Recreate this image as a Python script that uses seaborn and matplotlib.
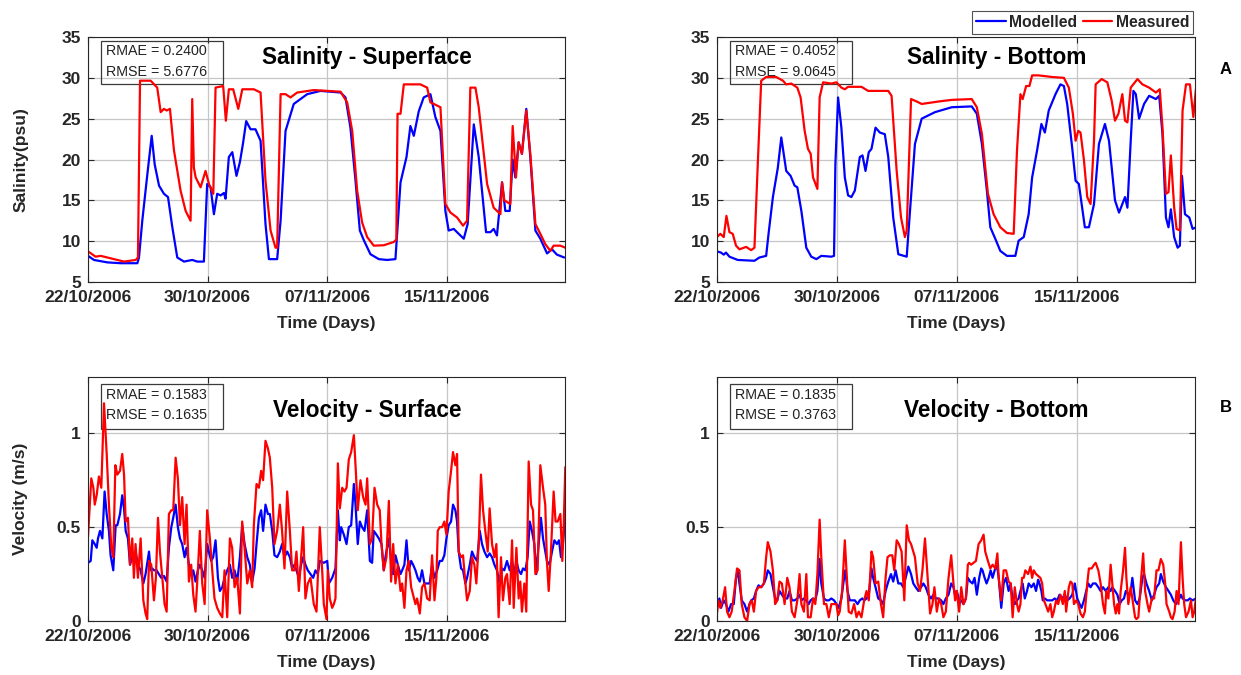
import matplotlib
matplotlib.use("Agg")
import matplotlib.pyplot as plt
from matplotlib.patches import Rectangle
import seaborn as sns
import pandas as pd

# ---------------------------------------------------------------------------
# Data: time in days since 22/10/2006 00:00, paired with the observed value
# ---------------------------------------------------------------------------
START_DATE = "2006-10-22"
TICK_DAYS = [0, 8, 16, 24]
X_END = 31.9

SERIES_NAMES = ["Modelled", "Measured"]
SERIES_COLORS = {"Modelled": "#0000ff", "Measured": "#ff0000"}

# Salinity (psu) at the surface
SAL_SURF_MOD = [
    (0.00, 8.2), (0.40, 7.7), (1.30, 7.4), (2.19, 7.3), (3.30, 7.3), (3.41, 8.0),
    (3.63, 12.5), (3.97, 18.2), (4.26, 22.9), (4.46, 19.4), (4.75, 16.8), (5.08, 15.8),
    (5.35, 15.4), (5.64, 11.7), (5.97, 8.0), (6.42, 7.5), (6.97, 7.7), (7.31, 7.5),
    (7.75, 7.5), (7.97, 17.0), (8.20, 16.6), (8.42, 13.3), (8.64, 15.8), (8.87, 15.6),
    (9.09, 15.9), (9.20, 15.2), (9.42, 20.3), (9.65, 20.9), (9.93, 18.0), (10.16, 19.7),
    (10.36, 21.9), (10.58, 24.7), (10.87, 23.7), (11.20, 23.7), (11.54, 22.3), (11.87, 12.1),
    (12.10, 7.8), (12.65, 7.8), (12.88, 12.5), (13.21, 23.5), (13.76, 26.8), (14.66, 28.0),
    (15.55, 28.4), (16.89, 28.2), (17.22, 27.6), (17.55, 23.9), (17.89, 17.4), (18.18, 11.3),
    (18.45, 10.1), (18.89, 8.4), (19.45, 7.8), (20.00, 7.7), (20.56, 7.8), (20.90, 17.2),
    (21.30, 20.3), (21.56, 24.1), (21.79, 22.9), (22.12, 25.9), (22.45, 27.6), (22.90, 28.0),
    (23.23, 25.2), (23.57, 23.5), (23.90, 13.7), (24.12, 11.3), (24.46, 11.5), (24.79, 10.9),
    (25.13, 10.3), (25.39, 12.1), (25.80, 24.3), (26.13, 20.3), (26.62, 11.1), (26.91, 11.1),
    (27.13, 11.5), (27.35, 10.7), (27.69, 17.2), (27.91, 13.7), (28.20, 13.7), (28.40, 20.0),
    (28.58, 17.8), (28.80, 22.1), (29.02, 20.7), (29.31, 26.2), (29.58, 20.3), (29.92, 11.3),
    (30.25, 10.3), (30.70, 8.5), (31.03, 9.0), (31.36, 8.35), (31.85, 8.0),
]
SAL_SURF_MEAS = [
    (0.00, 8.75), (0.51, 8.1), (0.85, 8.2), (1.74, 7.8), (2.41, 7.5), (3.19, 7.7),
    (3.34, 8.0), (3.48, 29.65), (4.19, 29.65), (4.63, 28.8), (4.86, 25.8), (5.08, 26.2),
    (5.26, 26.0), (5.48, 26.2), (5.75, 21.1), (6.19, 16.2), (6.53, 13.7), (6.86, 12.5),
    (6.97, 27.4), (7.08, 19.0), (7.20, 17.8), (7.53, 16.6), (7.86, 18.6), (8.09, 17.0),
    (8.38, 15.8), (8.53, 28.8), (9.04, 29.0), (9.22, 24.75), (9.42, 28.6), (9.71, 28.6),
    (10.05, 26.2), (10.32, 28.6), (11.09, 28.6), (11.54, 28.2), (11.87, 17.4), (12.21, 11.3),
    (12.54, 9.2), (12.65, 9.2), (12.88, 28.0), (13.21, 28.0), (13.54, 27.6), (13.99, 28.2),
    (15.10, 28.5), (16.89, 28.3), (17.33, 27.0), (17.67, 23.5), (18.00, 16.2), (18.33, 12.3),
    (18.67, 10.5), (19.11, 9.45), (19.78, 9.5), (20.45, 9.9), (20.62, 10.2), (20.70, 25.6),
    (20.90, 25.6), (21.12, 29.2), (22.23, 29.2), (22.68, 28.8), (22.90, 27.0), (23.35, 26.6),
    (23.57, 26.4), (23.90, 14.55), (24.24, 13.5), (24.68, 12.9), (25.08, 11.9), (25.35, 12.5),
    (25.57, 28.8), (25.91, 28.8), (26.13, 26.4), (26.69, 17.0), (27.13, 14.1), (27.58, 13.3),
    (27.69, 17.2), (27.84, 15.0), (28.24, 14.55), (28.40, 24.1), (28.62, 17.8), (28.80, 22.1),
    (29.02, 20.7), (29.31, 26.0), (29.58, 20.7), (29.92, 12.1), (30.25, 10.9), (30.58, 9.65),
    (30.92, 8.8), (31.14, 9.45), (31.59, 9.45), (31.92, 9.2),
]

# Salinity (psu) near the bed
SAL_BOT_MOD = [
    (0.00, 8.75), (0.27, 8.6), (0.45, 8.35), (0.60, 8.6), (0.83, 8.1), (1.38, 7.7),
    (2.50, 7.6), (2.83, 8.0), (3.28, 8.2), (3.44, 10.9), (3.73, 15.4), (4.06, 19.0),
    (4.29, 22.7), (4.62, 18.6), (4.91, 18.0), (5.18, 16.8), (5.36, 16.6), (5.63, 13.7),
    (5.96, 9.2), (6.29, 8.1), (6.63, 7.8), (6.96, 8.2), (7.63, 8.1), (7.81, 8.2),
    (7.90, 19.4), (8.08, 27.6), (8.30, 23.9), (8.53, 17.8), (8.75, 15.6), (8.97, 15.4),
    (9.20, 16.2), (9.53, 20.3), (9.71, 20.5), (9.91, 18.6), (10.13, 20.9), (10.31, 21.3),
    (10.58, 23.9), (10.87, 23.3), (11.20, 23.1), (11.43, 20.3), (11.76, 12.9), (12.10, 8.4),
    (12.66, 8.1), (12.88, 13.7), (13.21, 21.9), (13.66, 25.0), (14.55, 25.8), (15.67, 26.4),
    (17.00, 26.5), (17.34, 25.6), (17.68, 21.9), (18.01, 16.2), (18.24, 11.7), (18.57, 10.3),
    (18.91, 8.8), (19.35, 8.2), (19.91, 8.2), (20.13, 10.06), (20.47, 10.5), (20.80, 13.3),
    (21.03, 17.8), (21.36, 21.1), (21.65, 24.35), (21.88, 23.3), (22.14, 26.0), (22.59, 28.0),
    (22.92, 29.2), (23.15, 29.0), (23.37, 26.8), (23.70, 21.5), (23.93, 17.4), (24.15, 17.0),
    (24.55, 11.7), (24.82, 11.7), (25.16, 14.55), (25.49, 21.9), (25.89, 24.35), (26.16, 22.3),
    (26.56, 15.0), (26.83, 13.5), (27.23, 15.4), (27.39, 14.1), (27.61, 22.3), (27.79, 28.4),
    (27.95, 28.0), (28.17, 25.0), (28.50, 26.8), (28.84, 27.8), (29.29, 27.4), (29.51, 27.8),
    (29.73, 23.1), (29.96, 12.9), (30.13, 11.7), (30.29, 13.9), (30.51, 10.5), (30.74, 9.2),
    (30.89, 9.45), (31.03, 18.0), (31.23, 13.3), (31.52, 12.9), (31.74, 11.5), (31.96, 11.7),
]
SAL_BOT_MEAS = [
    (0.00, 10.5), (0.22, 10.9), (0.45, 10.5), (0.63, 13.1), (0.83, 11.1), (1.05, 10.9),
    (1.27, 9.45), (1.50, 9.0), (1.94, 9.3), (2.28, 8.9), (2.50, 9.2), (2.72, 19.4),
    (2.95, 29.65), (3.28, 30.1), (3.95, 30.1), (4.40, 29.65), (4.62, 29.2), (4.96, 29.3),
    (5.36, 28.8), (5.58, 27.6), (5.85, 23.5), (6.07, 21.3), (6.25, 20.7), (6.41, 17.8),
    (6.70, 16.4), (6.85, 27.6), (7.08, 29.45), (7.63, 29.3), (7.97, 29.45), (8.30, 28.8),
    (8.53, 28.6), (8.75, 28.9), (9.64, 28.9), (10.09, 28.4), (11.43, 28.4), (11.65, 27.8),
    (11.99, 18.6), (12.28, 12.9), (12.54, 10.5), (12.66, 11.3), (12.95, 27.4), (13.33, 27.1),
    (13.66, 26.8), (14.78, 27.1), (15.67, 27.3), (17.00, 27.4), (17.34, 26.4), (17.68, 23.1),
    (18.08, 15.8), (18.46, 13.3), (18.91, 11.7), (19.35, 11.0), (19.80, 10.9), (20.02, 21.1),
    (20.25, 28.0), (20.40, 27.4), (20.63, 29.0), (20.85, 29.0), (21.03, 30.3), (21.47, 30.3),
    (22.37, 30.1), (23.15, 30.0), (23.48, 28.8), (23.75, 25.6), (23.93, 22.3), (24.11, 23.5),
    (24.26, 23.3), (24.49, 19.9), (24.71, 15.4), (24.93, 14.55), (25.16, 22.3), (25.27, 29.2),
    (25.67, 29.85), (26.05, 29.45), (26.34, 27.2), (26.56, 24.75), (26.79, 25.6), (27.05, 28.0),
    (27.23, 24.75), (27.39, 24.55), (27.61, 28.8), (28.06, 29.85), (28.39, 29.2), (28.84, 28.8),
    (29.29, 28.2), (29.55, 28.6), (29.73, 23.9), (29.96, 15.8), (30.13, 16.0), (30.29, 20.5),
    (30.51, 14.1), (30.67, 11.5), (30.89, 11.3), (31.07, 26.0), (31.30, 29.2), (31.56, 29.2),
    (31.79, 25.2), (31.96, 28.6),
]

# Current speed (m/s) at the surface
VEL_SURF_MOD = [
    (0.00, 0.31), (0.18, 0.32), (0.29, 0.43), (0.45, 0.41), (0.58, 0.39), (0.67, 0.44),
    (0.80, 0.48), (0.96, 0.44), (1.11, 0.69), (1.25, 0.57), (1.40, 0.48), (1.51, 0.35),
    (1.69, 0.27), (1.85, 0.51), (1.96, 0.51), (2.14, 0.57), (2.29, 0.67), (2.41, 0.60),
    (2.52, 0.48), (2.67, 0.44), (2.81, 0.30), (2.96, 0.34), (3.07, 0.35), (3.18, 0.37),
    (3.34, 0.30), (3.52, 0.27), (3.70, 0.20), (3.85, 0.25), (4.08, 0.37), (4.19, 0.27),
    (4.30, 0.28), (4.41, 0.27), (4.59, 0.27), (4.74, 0.25), (4.90, 0.23), (5.08, 0.24),
    (5.26, 0.21), (5.41, 0.39), (5.57, 0.50), (5.70, 0.55), (5.86, 0.62), (6.01, 0.50),
    (6.15, 0.44), (6.30, 0.41), (6.46, 0.34), (6.59, 0.39), (6.75, 0.30), (6.90, 0.25),
    (7.04, 0.27), (7.19, 0.21), (7.35, 0.27), (7.48, 0.30), (7.64, 0.27), (7.80, 0.23),
    (7.97, 0.41), (8.08, 0.37), (8.24, 0.32), (8.37, 0.34), (8.53, 0.43), (8.69, 0.23),
    (8.82, 0.16), (8.98, 0.18), (9.13, 0.23), (9.31, 0.27), (9.49, 0.30), (9.64, 0.23),
    (9.80, 0.27), (9.98, 0.21), (10.16, 0.34), (10.31, 0.51), (10.47, 0.41), (10.65, 0.34),
    (10.82, 0.30), (10.98, 0.21), (11.14, 0.28), (11.27, 0.41), (11.43, 0.55), (11.58, 0.59),
    (11.71, 0.48), (11.87, 0.62), (12.03, 0.57), (12.16, 0.57), (12.32, 0.48), (12.47, 0.35),
    (12.65, 0.34), (12.83, 0.37), (12.98, 0.41), (13.14, 0.34), (13.32, 0.37), (13.50, 0.34),
    (13.65, 0.28), (13.81, 0.30), (13.94, 0.27), (14.10, 0.23), (14.25, 0.30), (14.39, 0.34),
    (14.54, 0.30), (14.70, 0.27), (14.88, 0.25), (15.06, 0.23), (15.21, 0.27), (15.37, 0.25),
    (15.50, 0.32), (15.77, 0.31), (16.00, 0.32), (16.11, 0.20), (16.33, 0.23), (16.55, 0.28),
    (16.71, 0.59), (16.84, 0.43), (16.93, 0.50), (17.11, 0.46), (17.29, 0.41), (17.44, 0.50),
    (17.60, 0.51), (17.78, 0.73), (17.89, 0.62), (18.04, 0.41), (18.18, 0.53), (18.33, 0.50),
    (18.49, 0.48), (18.67, 0.59), (18.85, 0.32), (19.00, 0.31), (19.11, 0.48), (19.29, 0.46),
    (19.45, 0.44), (19.63, 0.41), (19.78, 0.27), (19.89, 0.34), (20.00, 0.39), (20.12, 0.44),
    (20.27, 0.32), (20.41, 0.25), (20.56, 0.35), (20.72, 0.30), (20.90, 0.25), (21.01, 0.27),
    (21.16, 0.30), (21.30, 0.43), (21.45, 0.27), (21.61, 0.32), (21.74, 0.30), (21.90, 0.27),
    (22.05, 0.23), (22.19, 0.21), (22.34, 0.27), (22.50, 0.20), (22.68, 0.20), (22.85, 0.20),
    (23.01, 0.30), (23.17, 0.23), (23.35, 0.27), (23.52, 0.32), (23.68, 0.32), (23.83, 0.35),
    (23.97, 0.44), (24.12, 0.51), (24.28, 0.53), (24.41, 0.62), (24.57, 0.59), (24.68, 0.53),
    (24.79, 0.37), (24.95, 0.28), (25.08, 0.27), (25.24, 0.20), (25.35, 0.23), (25.53, 0.30),
    (25.68, 0.37), (25.84, 0.34), (26.02, 0.32), (26.20, 0.48), (26.35, 0.41), (26.51, 0.37),
    (26.69, 0.34), (26.86, 0.36), (27.02, 0.34), (27.18, 0.30), (27.35, 0.27), (27.53, 0.20),
    (27.69, 0.28), (27.84, 0.27), (28.02, 0.32), (28.20, 0.27), (28.36, 0.32), (28.51, 0.25),
    (28.65, 0.32), (28.80, 0.27), (28.96, 0.25), (29.09, 0.28), (29.25, 0.27), (29.40, 0.34),
    (29.54, 0.53), (29.69, 0.48), (29.85, 0.41), (29.98, 0.25), (30.14, 0.41), (30.29, 0.55),
    (30.43, 0.44), (30.58, 0.37), (30.69, 0.32), (30.87, 0.30), (31.03, 0.37), (31.19, 0.43),
    (31.36, 0.41), (31.50, 0.43), (31.63, 0.34), (31.76, 0.41), (31.92, 0.57),
]
VEL_SURF_MEAS = [
    (0.00, 0.45), (0.22, 0.76), (0.36, 0.71), (0.45, 0.62), (0.58, 0.67), (0.73, 0.77),
    (0.89, 0.71), (1.07, 1.16), (1.25, 0.89), (1.40, 0.62), (1.56, 0.39), (1.69, 0.34),
    (1.83, 0.83), (1.96, 0.78), (2.14, 0.80), (2.29, 0.89), (2.41, 0.78), (2.52, 0.53),
    (2.67, 0.55), (2.81, 0.30), (2.96, 0.44), (3.07, 0.23), (3.18, 0.41), (3.34, 0.23),
    (3.52, 0.44), (3.70, 0.11), (3.85, 0.04), (3.96, 0.01), (4.08, 0.32), (4.23, 0.30),
    (4.41, 0.11), (4.54, 0.23), (4.68, 0.55), (4.81, 0.37), (4.97, 0.23), (5.12, 0.09),
    (5.26, 0.05), (5.41, 0.57), (5.57, 0.59), (5.70, 0.59), (5.86, 0.87), (6.01, 0.76),
    (6.15, 0.51), (6.30, 0.66), (6.46, 0.41), (6.59, 0.62), (6.75, 0.21), (6.90, 0.30),
    (7.04, 0.14), (7.19, 0.05), (7.35, 0.27), (7.48, 0.48), (7.64, 0.20), (7.80, 0.09),
    (7.97, 0.59), (8.15, 0.44), (8.31, 0.27), (8.46, 0.12), (8.64, 0.07), (8.82, 0.04),
    (8.98, 0.02), (9.13, 0.27), (9.31, 0.02), (9.49, 0.44), (9.64, 0.39), (9.80, 0.18),
    (9.98, 0.23), (10.16, 0.04), (10.31, 0.53), (10.47, 0.39), (10.65, 0.20), (10.82, 0.27),
    (10.98, 0.18), (11.09, 0.51), (11.27, 0.73), (11.43, 0.71), (11.58, 0.80), (11.71, 0.75),
    (11.87, 0.96), (12.03, 0.92), (12.16, 0.87), (12.32, 0.71), (12.47, 0.41), (12.65, 0.48),
    (12.83, 0.62), (12.98, 0.48), (13.14, 0.28), (13.32, 0.69), (13.50, 0.48), (13.65, 0.27),
    (13.81, 0.27), (13.94, 0.37), (14.10, 0.16), (14.25, 0.34), (14.39, 0.50), (14.54, 0.12),
    (14.70, 0.20), (14.88, 0.23), (15.10, 0.09), (15.28, 0.05), (15.37, 0.23), (15.50, 0.50),
    (15.66, 0.27), (15.77, 0.09), (15.95, 0.01), (16.04, 0.27), (16.17, 0.12), (16.33, 0.07),
    (16.44, 0.09), (16.55, 0.12), (16.71, 0.84), (16.84, 0.60), (17.00, 0.71), (17.15, 0.69),
    (17.29, 0.71), (17.44, 0.86), (17.60, 0.90), (17.78, 0.99), (17.91, 0.80), (18.04, 0.59),
    (18.22, 0.75), (18.40, 0.66), (18.56, 0.62), (18.67, 0.76), (18.85, 0.41), (19.00, 0.44),
    (19.16, 0.71), (19.34, 0.62), (19.51, 0.59), (19.63, 0.41), (19.78, 0.27), (19.96, 0.34),
    (20.12, 0.64), (20.27, 0.21), (20.41, 0.41), (20.56, 0.20), (20.72, 0.30), (20.90, 0.16),
    (21.01, 0.20), (21.16, 0.07), (21.30, 0.27), (21.45, 0.32), (21.61, 0.18), (21.74, 0.14),
    (21.90, 0.09), (22.01, 0.12), (22.19, 0.04), (22.34, 0.18), (22.50, 0.20), (22.68, 0.12),
    (22.85, 0.11), (23.01, 0.35), (23.17, 0.11), (23.30, 0.23), (23.39, 0.48), (23.52, 0.50),
    (23.68, 0.50), (23.83, 0.53), (23.97, 0.46), (24.12, 0.69), (24.28, 0.80), (24.41, 0.90),
    (24.57, 0.83), (24.68, 0.89), (24.79, 0.37), (24.95, 0.34), (25.08, 0.35), (25.24, 0.20),
    (25.35, 0.11), (25.53, 0.16), (25.68, 0.34), (25.84, 0.30), (25.97, 0.20), (26.13, 0.41),
    (26.28, 0.78), (26.42, 0.59), (26.57, 0.48), (26.73, 0.37), (26.86, 0.60), (27.02, 0.41),
    (27.18, 0.34), (27.31, 0.41), (27.46, 0.02), (27.62, 0.34), (27.75, 0.11), (27.91, 0.23),
    (28.02, 0.25), (28.20, 0.09), (28.36, 0.43), (28.47, 0.07), (28.65, 0.39), (28.80, 0.12),
    (28.91, 0.21), (29.02, 0.05), (29.18, 0.20), (29.31, 0.05), (29.47, 0.85), (29.63, 0.62),
    (29.76, 0.59), (29.92, 0.25), (30.07, 0.27), (30.25, 0.83), (30.43, 0.71), (30.58, 0.62),
    (30.69, 0.32), (30.81, 0.16), (30.96, 0.37), (31.14, 0.69), (31.27, 0.53), (31.41, 0.53),
    (31.59, 0.57), (31.72, 0.32), (31.81, 0.50), (31.92, 0.82),
]

# Current speed (m/s) near the bed
VEL_BOT_MOD = [
    (0.00, 0.09), (0.16, 0.12), (0.27, 0.07), (0.45, 0.11), (0.60, 0.09), (0.76, 0.05),
    (0.94, 0.09), (1.12, 0.09), (1.27, 0.23), (1.38, 0.27), (1.50, 0.20), (1.65, 0.11),
    (1.83, 0.09), (2.01, 0.05), (2.17, 0.09), (2.28, 0.11), (2.46, 0.12), (2.61, 0.16),
    (2.77, 0.19), (2.95, 0.18), (3.13, 0.20), (3.28, 0.23), (3.39, 0.27), (3.57, 0.25),
    (3.73, 0.18), (3.88, 0.12), (4.02, 0.11), (4.17, 0.16), (4.33, 0.14), (4.51, 0.12),
    (4.69, 0.12), (4.84, 0.16), (5.00, 0.11), (5.18, 0.11), (5.36, 0.12), (5.51, 0.14),
    (5.63, 0.11), (5.80, 0.12), (5.96, 0.11), (6.12, 0.09), (6.25, 0.11), (6.41, 0.12),
    (6.56, 0.11), (6.70, 0.16), (6.85, 0.33), (6.96, 0.20), (7.14, 0.12), (7.30, 0.11),
    (7.46, 0.11), (7.63, 0.12), (7.81, 0.11), (7.97, 0.09), (8.12, 0.07), (8.30, 0.12),
    (8.48, 0.23), (8.57, 0.27), (8.71, 0.16), (8.86, 0.11), (9.02, 0.11), (9.20, 0.11),
    (9.38, 0.09), (9.53, 0.11), (9.69, 0.12), (9.82, 0.11), (9.98, 0.12), (10.13, 0.14),
    (10.31, 0.28), (10.42, 0.23), (10.58, 0.18), (10.76, 0.12), (10.94, 0.11), (11.09, 0.09),
    (11.25, 0.16), (11.43, 0.21), (11.61, 0.25), (11.76, 0.21), (11.92, 0.27), (12.10, 0.20),
    (12.28, 0.20), (12.43, 0.18), (12.59, 0.23), (12.77, 0.29), (12.95, 0.25), (13.10, 0.20),
    (13.26, 0.18), (13.44, 0.16), (13.62, 0.18), (13.77, 0.20), (13.93, 0.18), (14.11, 0.14),
    (14.29, 0.12), (14.44, 0.14), (14.60, 0.12), (14.78, 0.12), (14.96, 0.11), (15.11, 0.09),
    (15.27, 0.12), (15.45, 0.14), (15.63, 0.20), (15.78, 0.18), (15.89, 0.14), (16.00, 0.16),
    (16.16, 0.11), (16.30, 0.11), (16.45, 0.09), (16.61, 0.12), (16.74, 0.23), (16.90, 0.21),
    (17.05, 0.20), (17.19, 0.23), (17.34, 0.14), (17.50, 0.23), (17.63, 0.28), (17.72, 0.27),
    (17.86, 0.23), (17.99, 0.20), (18.13, 0.23), (18.26, 0.27), (18.39, 0.23), (18.53, 0.27),
    (18.68, 0.30), (18.80, 0.23), (18.97, 0.07), (19.13, 0.20), (19.29, 0.23), (19.46, 0.16),
    (19.60, 0.20), (19.73, 0.11), (19.87, 0.09), (20.02, 0.11), (20.13, 0.12), (20.25, 0.16),
    (20.40, 0.20), (20.54, 0.12), (20.69, 0.16), (20.80, 0.20), (20.98, 0.18), (21.14, 0.20),
    (21.29, 0.16), (21.43, 0.22), (21.52, 0.20), (21.65, 0.16), (21.74, 0.11), (21.88, 0.12),
    (22.03, 0.11), (22.19, 0.11), (22.37, 0.11), (22.54, 0.12), (22.70, 0.11), (22.86, 0.14),
    (23.04, 0.12), (23.21, 0.14), (23.37, 0.11), (23.53, 0.12), (23.71, 0.14), (23.88, 0.20),
    (24.04, 0.12), (24.20, 0.09), (24.33, 0.07), (24.49, 0.11), (24.64, 0.16), (24.78, 0.20),
    (24.93, 0.18), (25.09, 0.20), (25.27, 0.20), (25.45, 0.18), (25.60, 0.16), (25.76, 0.18),
    (25.94, 0.16), (26.12, 0.18), (26.27, 0.16), (26.38, 0.18), (26.56, 0.16), (26.72, 0.14),
    (26.87, 0.09), (27.01, 0.11), (27.16, 0.12), (27.28, 0.16), (27.45, 0.14), (27.61, 0.16),
    (27.72, 0.23), (27.90, 0.11), (28.06, 0.09), (28.21, 0.12), (28.39, 0.23), (28.50, 0.25),
    (28.66, 0.20), (28.84, 0.16), (29.02, 0.11), (29.17, 0.14), (29.33, 0.18), (29.51, 0.20),
    (29.62, 0.25), (29.78, 0.21), (29.96, 0.18), (30.13, 0.16), (30.29, 0.14), (30.45, 0.11),
    (30.62, 0.09), (30.80, 0.11), (30.96, 0.14), (31.07, 0.12), (31.25, 0.11), (31.41, 0.11),
    (31.56, 0.12), (31.74, 0.11), (31.96, 0.12),
]
VEL_BOT_MEAS = [
    (0.00, 0.04), (0.09, 0.11), (0.22, 0.07), (0.38, 0.11), (0.54, 0.18), (0.67, 0.05),
    (0.83, 0.02), (0.98, 0.05), (1.16, 0.16), (1.34, 0.28), (1.50, 0.27), (1.65, 0.09),
    (1.83, 0.02), (2.01, 0.00), (2.17, 0.09), (2.32, 0.11), (2.46, 0.05), (2.61, 0.16),
    (2.77, 0.18), (2.95, 0.18), (3.13, 0.20), (3.28, 0.34), (3.39, 0.42), (3.57, 0.37),
    (3.73, 0.27), (3.88, 0.09), (4.02, 0.11), (4.17, 0.21), (4.33, 0.20), (4.51, 0.09),
    (4.69, 0.23), (4.84, 0.18), (5.00, 0.05), (5.18, 0.02), (5.36, 0.11), (5.51, 0.25),
    (5.63, 0.09), (5.80, 0.05), (5.96, 0.25), (6.07, 0.02), (6.25, 0.02), (6.41, 0.12),
    (6.56, 0.09), (6.70, 0.25), (6.85, 0.54), (6.96, 0.34), (7.14, 0.09), (7.30, 0.09),
    (7.46, 0.02), (7.63, 0.09), (7.81, 0.09), (7.97, 0.09), (8.08, 0.03), (8.19, 0.05),
    (8.35, 0.16), (8.53, 0.43), (8.64, 0.27), (8.79, 0.05), (8.97, 0.04), (9.15, 0.09),
    (9.31, 0.02), (9.46, 0.05), (9.64, 0.02), (9.82, 0.11), (9.98, 0.16), (10.13, 0.11),
    (10.31, 0.37), (10.42, 0.34), (10.58, 0.20), (10.76, 0.21), (10.94, 0.09), (11.09, 0.02),
    (11.25, 0.23), (11.38, 0.34), (11.54, 0.35), (11.70, 0.35), (11.83, 0.27), (11.99, 0.43),
    (12.14, 0.41), (12.32, 0.37), (12.50, 0.11), (12.66, 0.51), (12.81, 0.43), (12.95, 0.41),
    (13.10, 0.37), (13.21, 0.34), (13.39, 0.20), (13.55, 0.16), (13.71, 0.27), (13.88, 0.44),
    (14.06, 0.23), (14.22, 0.04), (14.38, 0.09), (14.51, 0.18), (14.67, 0.05), (14.82, 0.12),
    (14.96, 0.09), (15.11, 0.02), (15.27, 0.05), (15.45, 0.23), (15.63, 0.35), (15.78, 0.20),
    (15.89, 0.11), (16.00, 0.16), (16.16, 0.05), (16.30, 0.18), (16.45, 0.09), (16.61, 0.12),
    (16.74, 0.30), (16.83, 0.31), (16.96, 0.30), (17.12, 0.31), (17.28, 0.32), (17.46, 0.41),
    (17.63, 0.43), (17.79, 0.46), (17.90, 0.37), (18.08, 0.32), (18.24, 0.28), (18.39, 0.30),
    (18.57, 0.28), (18.71, 0.36), (18.80, 0.23), (18.97, 0.11), (19.13, 0.27), (19.29, 0.27),
    (19.46, 0.21), (19.60, 0.20), (19.73, 0.02), (19.87, 0.18), (20.02, 0.09), (20.13, 0.05),
    (20.25, 0.09), (20.36, 0.23), (20.47, 0.23), (20.58, 0.27), (20.76, 0.25), (20.92, 0.29),
    (21.03, 0.23), (21.14, 0.27), (21.29, 0.25), (21.43, 0.24), (21.58, 0.23), (21.70, 0.20),
    (21.81, 0.11), (21.92, 0.09), (22.10, 0.05), (22.25, 0.09), (22.37, 0.02), (22.48, 0.05),
    (22.63, 0.11), (22.77, 0.09), (22.92, 0.14), (23.08, 0.09), (23.21, 0.16), (23.30, 0.05),
    (23.48, 0.18), (23.59, 0.21), (23.71, 0.20), (23.82, 0.09), (23.97, 0.11), (24.11, 0.09),
    (24.26, 0.04), (24.42, 0.02), (24.55, 0.05), (24.71, 0.20), (24.82, 0.28), (25.00, 0.28),
    (25.16, 0.30), (25.27, 0.31), (25.45, 0.27), (25.60, 0.20), (25.76, 0.09), (25.89, 0.04),
    (25.98, 0.16), (26.12, 0.12), (26.27, 0.30), (26.38, 0.20), (26.50, 0.09), (26.61, 0.04),
    (26.72, 0.09), (26.83, 0.04), (26.94, 0.16), (27.10, 0.27), (27.23, 0.39), (27.32, 0.23),
    (27.45, 0.09), (27.61, 0.18), (27.72, 0.12), (27.90, 0.02), (27.99, 0.01), (28.12, 0.02),
    (28.28, 0.20), (28.44, 0.36), (28.57, 0.16), (28.73, 0.09), (28.84, 0.05), (29.02, 0.12),
    (29.17, 0.12), (29.33, 0.27), (29.46, 0.27), (29.62, 0.33), (29.78, 0.30), (29.91, 0.20),
    (30.00, 0.09), (30.18, 0.05), (30.29, 0.02), (30.40, 0.01), (30.54, 0.05), (30.67, 0.16),
    (30.80, 0.09), (30.96, 0.42), (31.07, 0.23), (31.18, 0.09), (31.30, 0.02), (31.47, 0.05),
    (31.63, 0.11), (31.74, 0.02), (31.85, 0.05), (31.96, 0.12),
]

PANELS = [
    # (modelled, measured, title, ylim, yticks, stats)
    (SAL_SURF_MOD, SAL_SURF_MEAS, "Salinity - Superface", (5, 35), [5, 10, 15, 20, 25, 30, 35],
     ["RMAE = 0.2400", "RMSE = 5.6776"]),
    (SAL_BOT_MOD, SAL_BOT_MEAS, "Salinity - Bottom", (5, 35), [5, 10, 15, 20, 25, 30, 35],
     ["RMAE = 0.4052", "RMSE = 9.0645"]),
    (VEL_SURF_MOD, VEL_SURF_MEAS, "Velocity - Surface", (0, 1.3), [0, 0.5, 1],
     ["RMAE = 0.1583", "RMSE = 0.1635"]),
    (VEL_BOT_MOD, VEL_BOT_MEAS, "Velocity - Bottom", (0, 1.3), [0, 0.5, 1],
     ["RMAE = 0.1835", "RMSE = 0.3763"]),
]
Y_LABELS = ["Salinity(psu)", None, "Velocity (m/s)", None]
ROW_TAGS = ["A", "B"]

# ---------------------------------------------------------------------------
# Styling
# ---------------------------------------------------------------------------
sns.set_style("ticks")
plt.rcParams["font.family"] = ["Liberation Sans", "DejaVu Sans"]
INK = "#262626"
GRID = "#c6c6c6"

W, H = 1241, 675
fig = plt.figure(figsize=(W / 100, H / 100), dpi=100)

# axes boxes in pixels: left, top, right, bottom
boxes = [
    (88, 37, 565, 282), (717, 37, 1195, 282),
    (88, 377, 565, 621), (717, 377, 1195, 621),
]

tick_labels = [
    (pd.Timestamp(START_DATE) + pd.Timedelta(days=d)).strftime("%d/%m/%Y") for d in TICK_DAYS
]


def to_frame(modelled, measured):
    rows = [(d, v, SERIES_NAMES[0]) for d, v in modelled]
    rows += [(d, v, SERIES_NAMES[1]) for d, v in measured]
    return pd.DataFrame(rows, columns=["day", "value", "series"])


axes = []
for i, ((mod, meas, title, ylim, yticks, stats), (l, t, r, b)) in enumerate(zip(PANELS, boxes)):
    ax = fig.add_axes([l / W, 1 - b / H, (r - l) / W, (b - t) / H])
    axes.append(ax)
    df = to_frame(mod, meas)
    sns.lineplot(
        data=df, x="day", y="value", hue="series", hue_order=SERIES_NAMES,
        palette=SERIES_COLORS, estimator=None, sort=True, linewidth=1.6,
        ax=ax, legend=(i == 0),
    )
    ax.set_xlim(0, X_END)
    ax.set_ylim(*ylim)
    ax.set_xticks(TICK_DAYS)
    ax.set_xticklabels(tick_labels)
    ax.set_yticks(yticks)
    ax.set_yticklabels([f"{v:g}" for v in yticks])
    ax.grid(True, color=GRID, linewidth=0.9)
    ax.set_axisbelow(True)
    for side in ["top", "right", "left", "bottom"]:
        ax.spines[side].set_visible(True)
        ax.spines[side].set_color(INK)
        ax.spines[side].set_linewidth(0.8)
    ax.tick_params(axis="both", direction="in", length=4, width=0.8, color=INK,
                   labelsize=12.5, labelcolor=INK, top=True, right=True)
    ax.tick_params(axis="x", pad=6)
    ax.tick_params(axis="y", pad=5)
    for lab in ax.get_xticklabels() + ax.get_yticklabels():
        lab.set_fontweight("bold")

    ax.set_xlabel("Time (Days)", fontsize=12.5, fontweight="bold", color=INK)
    ax.xaxis.set_label_coords(0.5, -0.137 if i < 2 else -0.141)
    if Y_LABELS[i]:
        ax.set_ylabel(Y_LABELS[i], fontsize=12.5, fontweight="bold", color=INK)
        ax.yaxis.set_label_coords(-0.125, 0.5)
    else:
        ax.set_ylabel("")

    # panel title
    ax.text(0.585, 0.918 if i < 2 else 0.861, title, transform=ax.transAxes,
            ha="center", va="center", fontsize=16.3, fontweight="bold", color="black")

    # statistics box (transparent, the curves show through)
    top_f = 0.984 if i < 2 else 0.971
    bot_f = 0.808 if i < 2 else 0.787
    ax.add_patch(Rectangle((0.027, bot_f), 0.256, top_f - bot_f, transform=ax.transAxes,
                           facecolor="none", edgecolor="#3a3a3a", linewidth=0.9, zorder=1.5))
    line_y = [0.943, 0.857] if i < 2 else [0.926, 0.844]
    for s, yy in zip(stats, line_y):
        ax.text(0.038, yy, s, transform=ax.transAxes, ha="left", va="center",
                fontsize=10.3, color="#222222", zorder=1.5)

# shared legend above the right-hand panels
handles, labels = axes[0].get_legend_handles_labels()
axes[0].get_legend().remove()
leg = fig.legend(handles, labels, loc="upper right", bbox_to_anchor=(1193 / W, 1 - 11 / H),
                 ncol=2, frameon=True, fancybox=False, edgecolor=INK,
                 prop={"weight": "bold", "size": 11.3}, handlelength=1.9, handletextpad=0.2,
                 columnspacing=0.35, borderpad=0.25, borderaxespad=0.0)
leg.get_frame().set_linewidth(0.8)

# row tags
fig.text(1225.5 / W, 1 - 69 / H, ROW_TAGS[0], ha="center", va="center",
         fontsize=12, fontweight="bold", color="black")
fig.text(1225.5 / W, 1 - 408 / H, ROW_TAGS[1], ha="center", va="center",
         fontsize=12, fontweight="bold", color="black")

fig.savefig("out.png", dpi=100, facecolor="white")
